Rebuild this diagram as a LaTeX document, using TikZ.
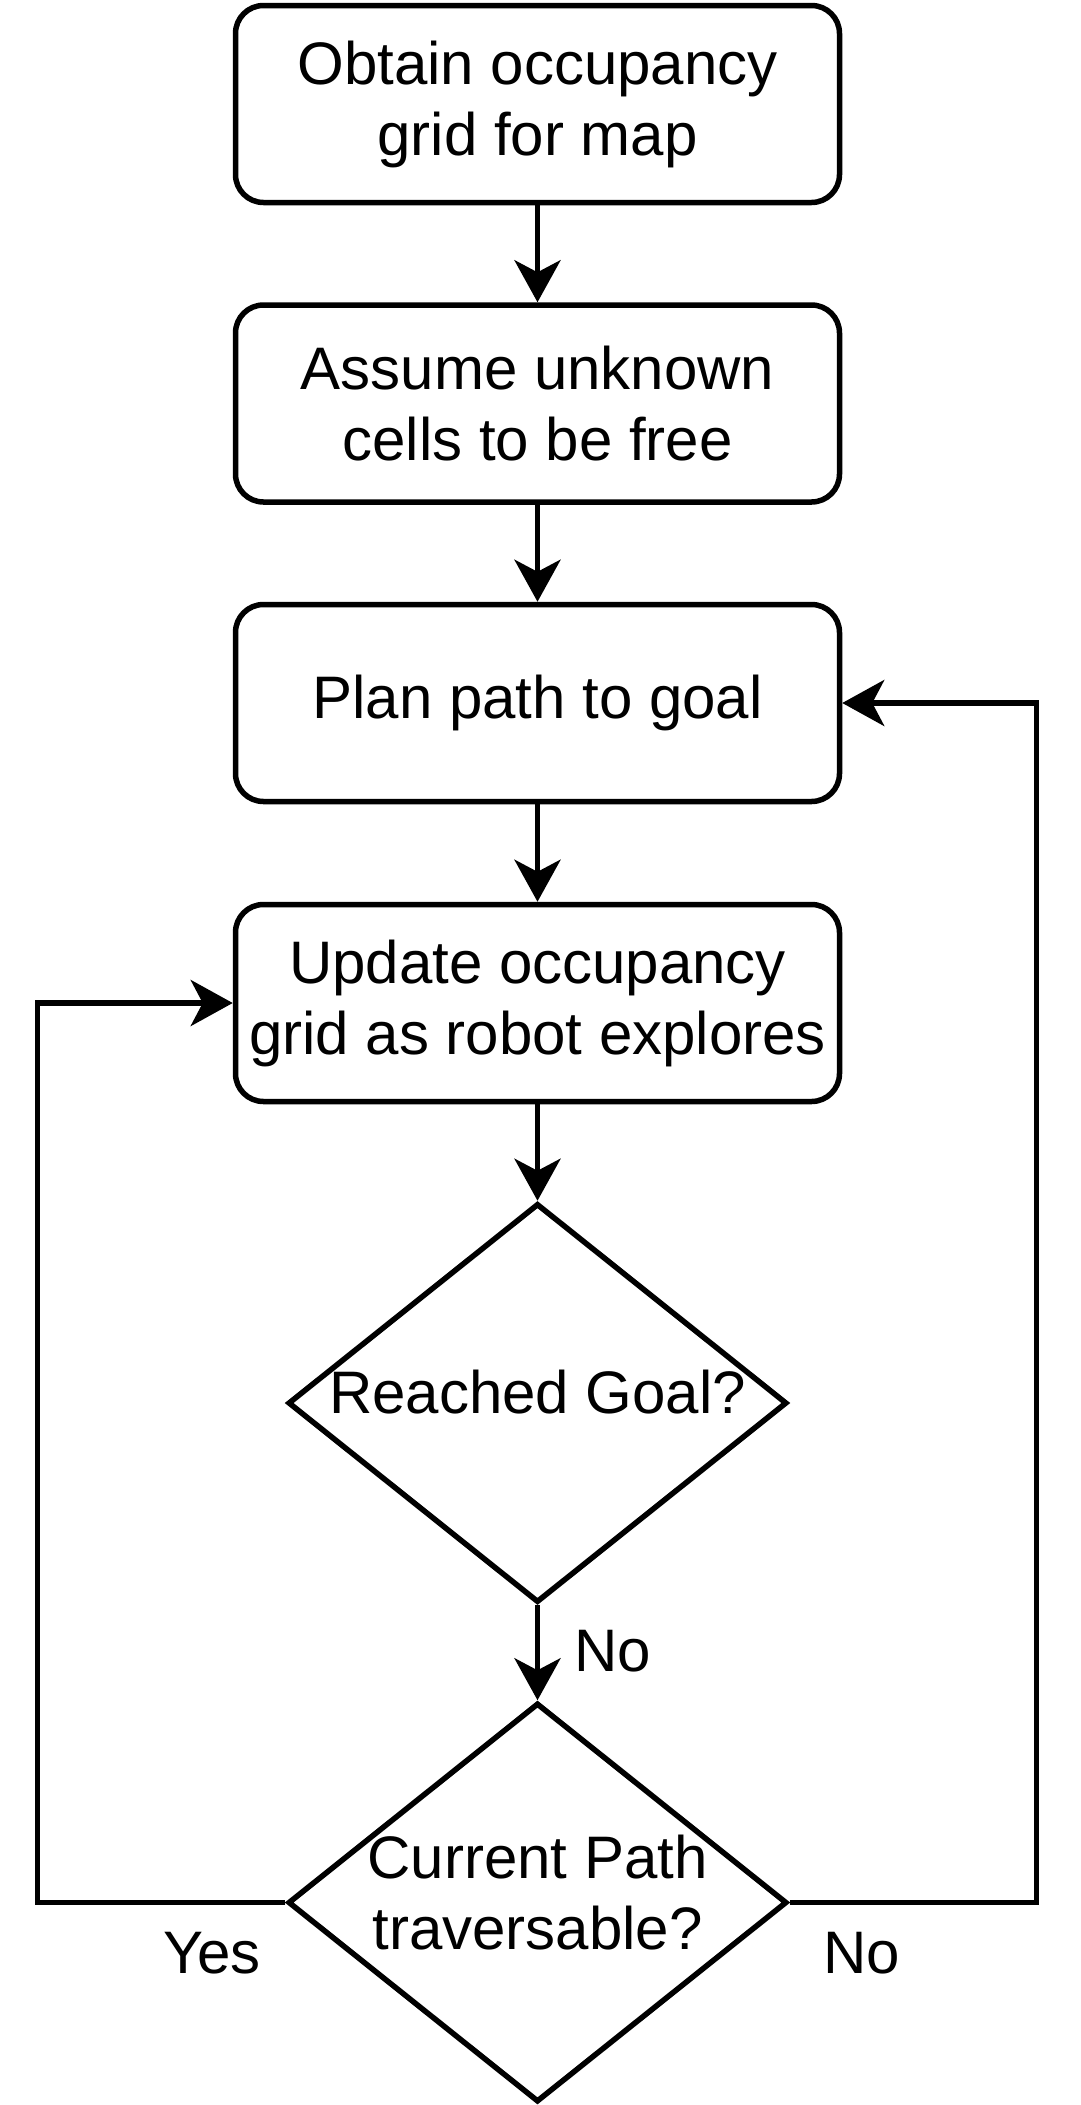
\documentclass[tikz,border=0pt]{standalone}
\usepackage{fontspec}
\setmainfont{Liberation Sans}
\usetikzlibrary{arrows.meta,shapes.geometric}
\begin{document}
\begin{tikzpicture}[x=1pt,y=-1pt,
  every node/.style={font=\fontsize{60}{71}\selectfont},
  procbox/.style={draw, line width=5.5pt, rounded corners=28pt, minimum width=604pt, minimum height=197pt, align=center, inner sep=0pt},
  decbox/.style={draw, line width=5.5pt, diamond, minimum width=499pt, minimum height=399pt, inner sep=0pt},
  dectext/.style={align=center, inner sep=0pt},
  flow/.style={line width=5.5pt, line join=miter, -{Stealth[length=42pt,width=46pt,inset=12pt]}},
  edgelabel/.style={inner sep=0pt}
]
\useasboundingbox (0,0) rectangle (1080,2105);
\node[procbox] (b1) at (537.5,104) {Obtain occupancy\\grid for map};
\node[procbox] (b2) at (537.5,403.5) {Assume unknown\\cells to be free};
\node[procbox] (b3) at (537.5,703) {Plan path to goal};
\node[procbox] (b4) at (537.5,1003) {Update occupancy\\grid as robot explores};
\node[decbox] (d1) at (537.5,1403) {};
\node[dectext] (d1t) at (537.5,1392) {Reached Goal?};
\node[decbox] (d2) at (537.5,1902.5) {};
\node[dectext] (d2t) at (537.5,1893) {Current Path\\traversable?};
\coordinate (lc) at (37.5,1902.5);
\coordinate (rc) at (1036.5,1902.5);
\draw[flow] (b1) -- (b2);
\draw[flow] (b2) -- (b3);
\draw[flow] (b3) -- (b4);
\draw[flow] (b4) -- (d1);
\draw[flow] (d1) -- (d2);
\draw[flow] (d2.west) -- (lc) |- (b4.west);
\draw[flow] (d2.east) -- (rc) |- (b3.east);
\node[edgelabel] (lno1) at (613,1651) {No};
\node[edgelabel] (lyes) at (212,1953) {Yes};
\node[edgelabel] (lno2) at (862,1953) {No};
\end{tikzpicture}
\end{document}
